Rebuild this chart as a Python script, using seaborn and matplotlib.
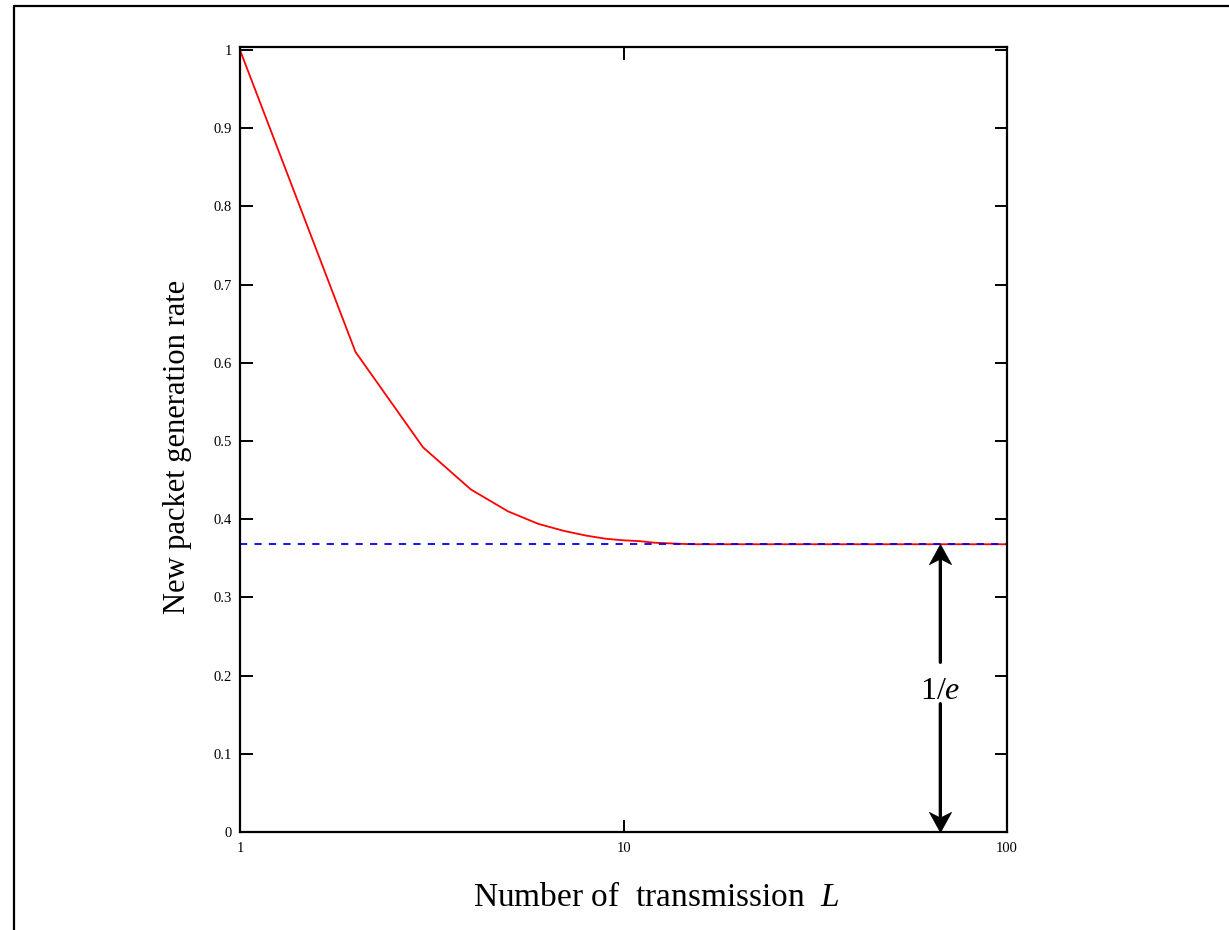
import numpy as np
import pandas as pd
import matplotlib
matplotlib.use("Agg")
import matplotlib.pyplot as plt
from matplotlib.lines import Line2D
from matplotlib.path import Path
from matplotlib.ticker import FixedLocator, FixedFormatter, NullLocator
import seaborn as sns

# values
L_values = [1, 2, 3, 4, 5, 6, 7, 8, 9, 10, 11, 12, 15, 20, 30, 50, 100]
rate = [1.0, 0.614, 0.492, 0.438, 0.410, 0.394, 0.385, 0.379, 0.375,
        0.373, 0.372, 0.370, 0.368, 0.368, 0.368, 0.368, 0.368]
limit_L = [1, 100]
limit_rate = [0.368, 0.368]
y_ticks = [0, 0.1, 0.2, 0.3, 0.4, 0.5, 0.6, 0.7, 0.8, 0.9, 1]
y_tick_labels = ["0", "0.1", "0.2", "0.3", "0.4", "0.5", "0.6", "0.7", "0.8", "0.9", "1"]
x_ticks = [1, 10, 100]
x_tick_labels = ["1", "10", "100"]
arrow_L = 67
arrow_top = 0.368
gap_top = 0.217
gap_bottom = 0.164
label_y = 0.18

sns.set_style("ticks")
plt.rcParams["font.family"] = ["Liberation Serif", "DejaVu Serif"]
plt.rcParams["text.color"] = "black"
plt.rcParams["mathtext.fontset"] = "custom"
plt.rcParams["mathtext.rm"] = "Liberation Serif"
plt.rcParams["mathtext.it"] = "Liberation Serif:italic"

fig = plt.figure(figsize=(12.29, 9.30), dpi=100)
ax = fig.add_axes([0.1953, 0.1054, 0.6241, 0.8441])

curve = pd.DataFrame({"L": L_values, "rate": rate})
limit = pd.DataFrame({"L": limit_L, "rate": limit_rate})

sns.lineplot(data=curve, x="L", y="rate", color="red", lw=1.3, ax=ax)
sns.lineplot(data=limit, x="L", y="rate", color="blue", lw=1.3,
             linestyle=(0, (4, 4)), ax=ax)

ax.set_xscale("log")
ax.set_xlim(1, 100)
ax.set_ylim(0, 1.004)

ax.xaxis.set_major_locator(FixedLocator(x_ticks))
ax.xaxis.set_major_formatter(FixedFormatter(x_tick_labels))
ax.xaxis.set_minor_locator(NullLocator())
ax.yaxis.set_major_locator(FixedLocator(y_ticks))
ax.yaxis.set_major_formatter(FixedFormatter(y_tick_labels))

ax.tick_params(direction="in", length=9, width=1.4, labelsize=10.5,
               top=True, right=True, color="black", labelcolor="black")
ax.tick_params(axis="x", pad=7)
ax.tick_params(axis="y", pad=6)
for sp in ax.spines.values():
    sp.set_linewidth(1.6)
    sp.set_color("black")

ax.set_xlabel("")
ax.set_ylabel("")
fig.text(178 / 1229, 1 - 447 / 930, "New packet generation rate", fontsize=22,
         rotation=90, ha="center", va="center")
fig.text(656 / 1229, 1 - 906 / 930, r"Number of  transmission  $L$", fontsize=24,
         ha="center", va="baseline")

# 1/e double arrow: shafts plus stealth-like heads
up_head = Path([(0, 0), (-0.55, -1), (0, -0.72), (0.55, -1), (0, 0)],
               [Path.MOVETO, Path.LINETO, Path.LINETO, Path.LINETO, Path.CLOSEPOLY])
down_head = Path([(0, 0), (-0.55, 1), (0, 0.72), (0.55, 1), (0, 0)],
                 [Path.MOVETO, Path.LINETO, Path.LINETO, Path.LINETO, Path.CLOSEPOLY])
ax.annotate("", xy=(arrow_L, arrow_top - 0.02), xytext=(arrow_L, gap_top),
            arrowprops=dict(arrowstyle="-", lw=2.4, color="black",
                            shrinkA=0, shrinkB=0))
ax.annotate("", xy=(arrow_L, 0.02), xytext=(arrow_L, gap_bottom),
            arrowprops=dict(arrowstyle="-", lw=2.4, color="black",
                            shrinkA=0, shrinkB=0))
ax.plot([arrow_L], [arrow_top], marker=up_head, ms=29, color="black",
        mec="black", mew=0.5, clip_on=False)
ax.plot([arrow_L], [0.0], marker=down_head, ms=29, color="black",
        mec="black", mew=0.5, clip_on=False)
ax.text(arrow_L, label_y, r"1/$e$", fontsize=23, ha="center", va="center")

# outer frame (left and top edges only)
fig.add_artist(Line2D([14 / 1229, 14 / 1229], [0, 1 - 6 / 930],
                      transform=fig.transFigure, color="black", lw=1.6))
fig.add_artist(Line2D([14 / 1229, 1], [1 - 6 / 930, 1 - 6 / 930],
                      transform=fig.transFigure, color="black", lw=1.6))

fig.savefig("out.png", dpi=100, facecolor="white")
